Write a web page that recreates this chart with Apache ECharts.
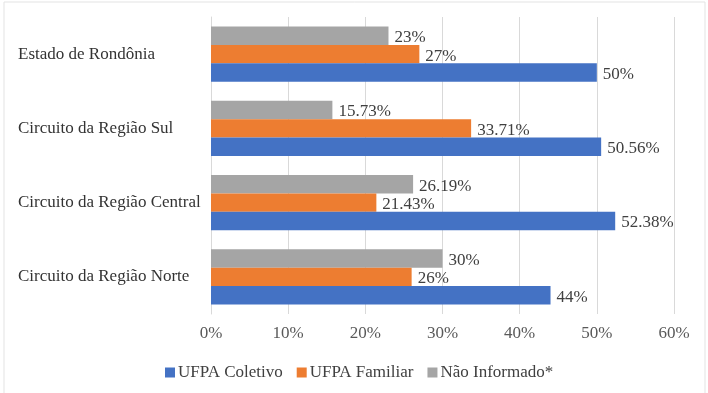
<!DOCTYPE html>
<html>
<head>
<meta charset="utf-8">
<script src="https://cdn.jsdelivr.net/npm/echarts@6/dist/echarts.min.js"></script>
<style>
html,body{margin:0;padding:0;background:#fff;}
#chart{width:708px;height:393px;}
</style>
</head>
<body>
<div id="chart"></div>
<script>
const categories = ["Circuito da Região Norte", "Circuito da Região Central", "Circuito da Região Sul", "Estado de Rondônia"];
const seriesNames = ["UFPA Coletivo", "UFPA Familiar", "Não Informado*"];
const ufpaColetivo = [44, 52.38, 50.56, 50];
const ufpaFamiliar = [26, 21.43, 33.71, 27];
const naoInformado = [30, 26.19, 15.73, 23];
const xTicks = [0, 10, 20, 30, 40, 50, 60];

const colors = ["#4472C4", "#ED7D31", "#A5A5A5"];
const font = "Liberation Serif";

const chart = echarts.init(document.getElementById('chart'), null, {renderer: 'canvas'});

function mkSeries(name, data, color) {
  return {
    name: name,
    type: 'bar',
    data: data,
    barGap: '0%',
    barCategoryGap: '25.7%',
    itemStyle: {color: color},
    label: {
      show: true,
      position: 'right',
      distance: 6,
      offset: [0, 2],
      formatter: p => p.value + '%',
      fontFamily: font,
      fontSize: 17,
      color: '#404040'
    }
  };
}

chart.setOption({
  animation: false,
  backgroundColor: '#fff',
  graphic: [{
    type: 'rect',
    shape: {x: 4, y: 2, width: 701, height: 420},
    style: {fill: 'none', stroke: '#e3e3e3', lineWidth: 1},
    silent: true
  }],
  grid: {left: 211, right: 34, top: 17, bottom: 79, containLabel: false},
  legend: {
    data: seriesNames,
    left: 160,
    top: 359,
    icon: 'rect',
    itemWidth: 10,
    itemHeight: 10,
    itemGap: 14,
    textStyle: {fontFamily: font, fontSize: 17, color: '#404040', padding: [0, 0, 0, -2]}
  },
  xAxis: {
    type: 'value',
    min: xTicks[0],
    max: xTicks[xTicks.length - 1],
    interval: 10,
    axisLine: {show: false},
    axisTick: {show: false},
    splitLine: {show: true, lineStyle: {color: '#d9d9d9', width: 1}},
    axisLabel: {
      formatter: '{value}%',
      fontFamily: font,
      fontSize: 17,
      color: '#595959',
      margin: 11
    }
  },
  yAxis: {
    type: 'category',
    data: categories,
    axisLine: {show: true, lineStyle: {color: '#d9d9d9'}},
    axisTick: {show: false},
    axisLabel: {
      align: 'left',
      margin: 193,
      fontFamily: font,
      fontSize: 17,
      color: '#333333'
    }
  },
  series: [
    mkSeries(seriesNames[2], naoInformado, colors[2]),
    mkSeries(seriesNames[1], ufpaFamiliar, colors[1]),
    mkSeries(seriesNames[0], ufpaColetivo, colors[0])
  ]
});
</script>
</body>
</html>
